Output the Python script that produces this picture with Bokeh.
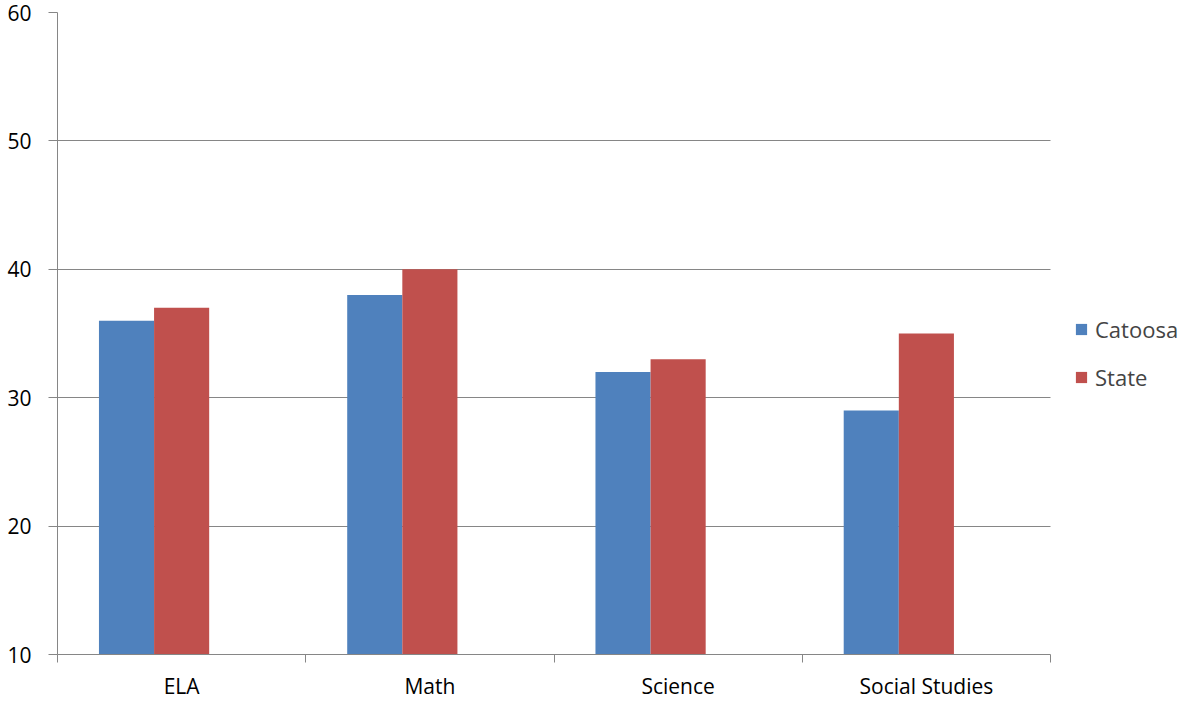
import numpy as np
from bokeh.plotting import figure
from bokeh.models import Range1d, FixedTicker, ColumnDataSource, Legend, LegendItem
from bokeh.transform import dodge
from bokeh.embed import file_html
from bokeh.resources import INLINE

categories = ["ELA", "Math", "Science", "Social Studies"]
catoosa = [36, 38, 32, 29]
state = [37, 40, 33, 35]
y_ticks = [10, 20, 30, 40, 50, 60]

FONT = "Open Sans"
AX = "#868686"

W, H = 1180, 702
LEFT, TOP, BOTTOM = 57, 12, 46
PLOT_W = 993  # pixel width of the category area
n = len(categories)
x_end = n * (W - LEFT) / PLOT_W

xpos = np.arange(n) + 0.5
src = ColumnDataSource(dict(x=xpos, catoosa=catoosa, state=state))

p = figure(width=W, height=H, output_backend="svg", toolbar_location=None,
           x_range=Range1d(0, x_end), y_range=Range1d(10, 60),
           min_border_left=LEFT, min_border_top=TOP, min_border_right=0, min_border_bottom=BOTTOM)
p.outline_line_color = None
p.background_fill_color = "white"
p.border_fill_color = "white"

w = 0.222
r1 = p.vbar(x=dodge("x", -w), top="catoosa", bottom=10, width=w, source=src,
            fill_color="#4F81BD", line_color=None)
r2 = p.vbar(x=dodge("x", 0), top="state", bottom=10, width=w, source=src,
            fill_color="#C0504D", line_color=None)

# y axis
p.yaxis.ticker = FixedTicker(ticks=y_ticks)
p.yaxis.axis_line_color = AX
p.yaxis.major_tick_line_color = AX
p.yaxis.major_tick_out = 9
p.yaxis.major_tick_in = 0
p.yaxis.minor_tick_line_color = None
p.yaxis.major_label_text_font = FONT
p.yaxis.major_label_text_font_size = "21px"
p.yaxis.major_label_text_color = "black"
p.yaxis.major_label_standoff = 17
p.ygrid.grid_line_color = AX
p.ygrid.ticker = FixedTicker(ticks=y_ticks)
p.ygrid.cross_bounds = (0, n)

# x axis
p.xaxis.ticker = FixedTicker(ticks=list(xpos), minor_ticks=list(range(n + 1)))
p.xaxis.major_label_overrides = {float(x): c for x, c in zip(xpos, categories)}
p.xaxis.bounds = (0, n)
p.xaxis.axis_line_color = AX
p.xaxis.major_tick_line_color = None
p.xaxis.major_tick_out = 0
p.xaxis.major_tick_in = 0
p.xaxis.minor_tick_line_color = AX
p.xaxis.minor_tick_out = 8
p.xaxis.minor_tick_in = 0
p.xaxis.major_label_text_font = FONT
p.xaxis.major_label_text_font_size = "21px"
p.xaxis.major_label_text_color = "black"
p.xaxis.major_label_standoff = 9
p.xgrid.grid_line_color = None

legend = Legend(items=[LegendItem(label="Catoosa", renderers=[r1]),
                       LegendItem(label="State", renderers=[r2])],
                location=(1017, 262))
legend.border_line_color = None
legend.background_fill_alpha = 0
legend.glyph_width = 14
legend.glyph_height = 14
legend.label_standoff = 7
legend.label_text_font = FONT
legend.label_text_font_size = "22px"
legend.label_height = 20
legend.spacing = 18
legend.padding = 0
legend.margin = 0
p.add_layout(legend, "center")

open("out.html", "w").write(file_html(p, INLINE))
